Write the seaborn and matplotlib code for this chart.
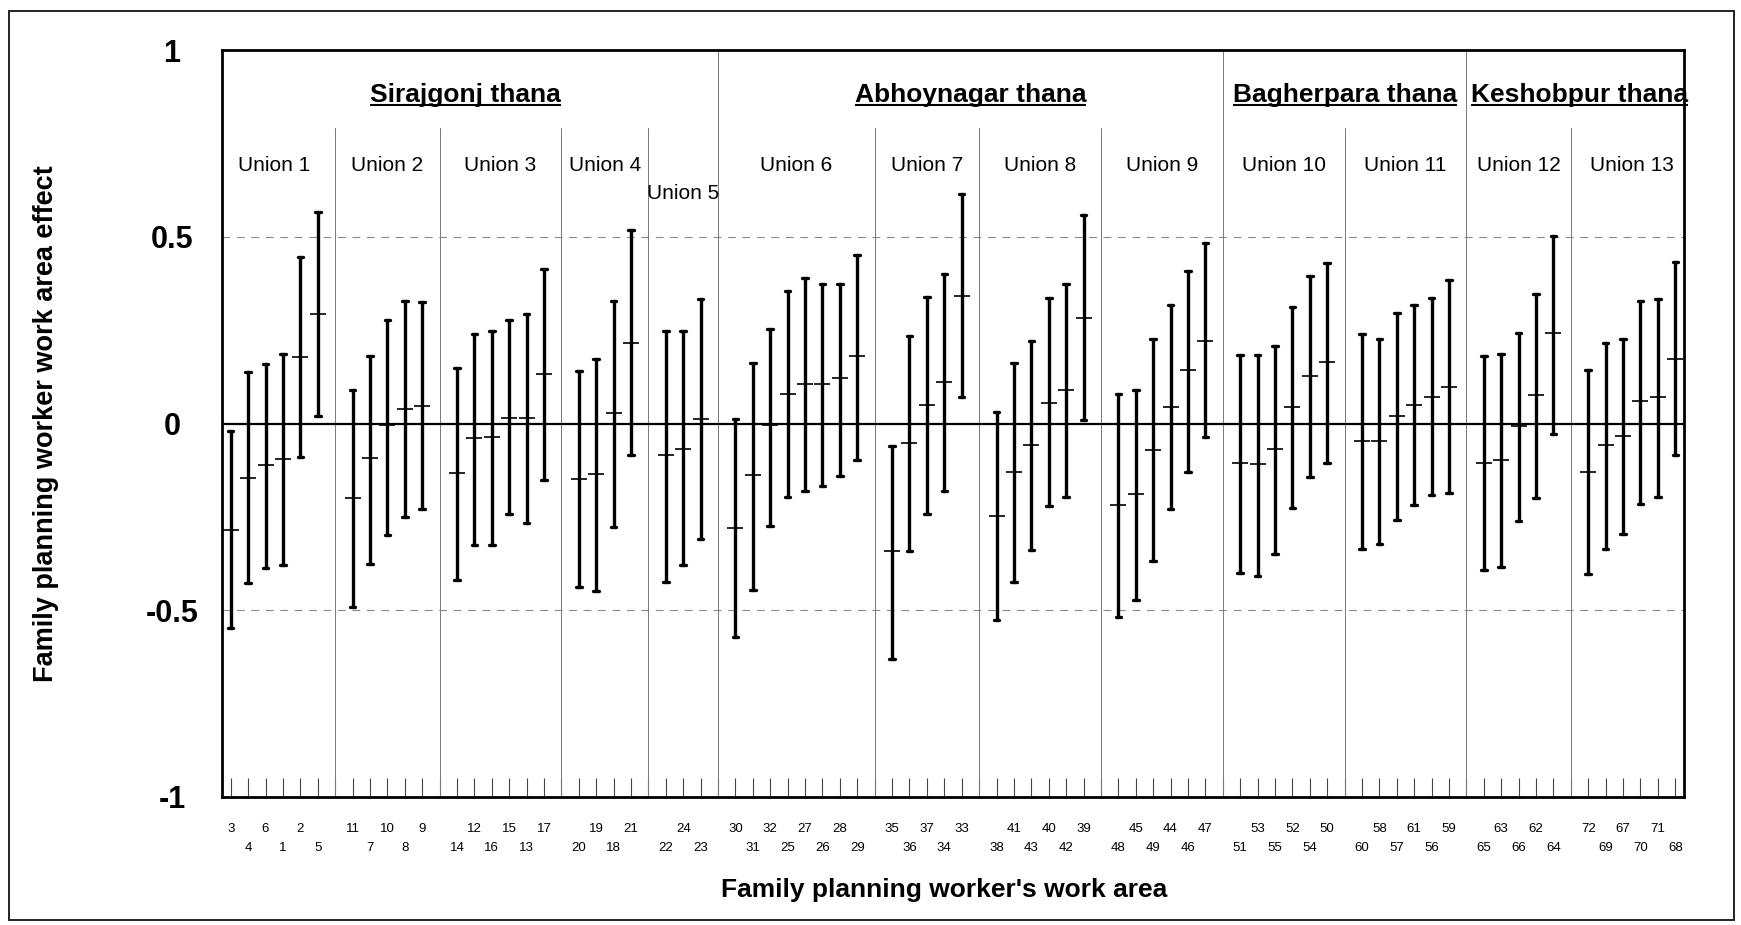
import numpy as np
import pandas as pd
import matplotlib
matplotlib.use("Agg")
import matplotlib.pyplot as plt
import seaborn as sns
from matplotlib.patches import Rectangle

# ---------------- data ----------------
area_ids = [3, 4, 6, 1, 2, 5,
            11, 7, 10, 8, 9,
            14, 12, 16, 15, 13, 17,
            20, 19, 18, 21,
            22, 24, 23,
            30, 31, 32, 25, 27, 26, 28, 29,
            35, 36, 37, 34, 33,
            38, 41, 43, 40, 42, 39,
            48, 45, 49, 44, 46, 47,
            51, 53, 55, 52, 54, 50,
            60, 58, 57, 61, 56, 59,
            65, 63, 66, 62, 64,
            72, 69, 67, 70, 71, 68]

lower = [-0.548, -0.428, -0.386, -0.378, -0.089, 0.021,
         -0.491, -0.375, -0.298, -0.251, -0.229,
         -0.418, -0.325, -0.325, -0.242, -0.266, -0.152,
         -0.438, -0.448, -0.278, -0.085,
         -0.424, -0.379, -0.309,
         -0.572, -0.445, -0.274, -0.198, -0.181, -0.168, -0.141, -0.098,
         -0.630, -0.341, -0.242, -0.180, 0.072,
         -0.525, -0.425, -0.338, -0.221, -0.197, 0.009,
         -0.519, -0.472, -0.368, -0.229, -0.131, -0.037,
         -0.400, -0.407, -0.349, -0.226, -0.143, -0.105,
         -0.336, -0.322, -0.259, -0.219, -0.192, -0.185,
         -0.391, -0.385, -0.262, -0.199, -0.027,
         -0.404, -0.336, -0.297, -0.215, -0.196, -0.084]

mean = [-0.285, -0.145, -0.112, -0.096, 0.178, 0.293,
        -0.200, -0.093, -0.005, 0.040, 0.048,
        -0.133, -0.040, -0.037, 0.016, 0.016, 0.132,
        -0.149, -0.136, 0.027, 0.216,
        -0.085, -0.067, 0.013,
        -0.281, -0.139, -0.004, 0.080, 0.106, 0.106, 0.122, 0.180,
        -0.342, -0.053, 0.049, 0.111, 0.342,
        -0.247, -0.131, -0.057, 0.056, 0.090, 0.283,
        -0.218, -0.190, -0.071, 0.043, 0.142, 0.222,
        -0.107, -0.109, -0.068, 0.043, 0.128, 0.164,
        -0.047, -0.047, 0.019, 0.050, 0.071, 0.099,
        -0.107, -0.099, -0.008, 0.077, 0.242,
        -0.129, -0.058, -0.034, 0.059, 0.071, 0.174]

upper = [-0.019, 0.137, 0.160, 0.186, 0.447, 0.566,
         0.090, 0.181, 0.277, 0.327, 0.325,
         0.148, 0.240, 0.248, 0.277, 0.293, 0.413,
         0.141, 0.174, 0.327, 0.519,
         0.248, 0.248, 0.334,
         0.012, 0.163, 0.254, 0.356, 0.389, 0.374, 0.373, 0.452,
         -0.060, 0.234, 0.338, 0.400, 0.615,
         0.032, 0.162, 0.221, 0.336, 0.373, 0.559,
         0.080, 0.091, 0.227, 0.316, 0.408, 0.484,
         0.184, 0.184, 0.208, 0.311, 0.396, 0.430,
         0.240, 0.227, 0.295, 0.318, 0.336, 0.385,
         0.180, 0.186, 0.242, 0.346, 0.503,
         0.144, 0.215, 0.227, 0.329, 0.334, 0.432]

union_names = ["Union 1", "Union 2", "Union 3", "Union 4", "Union 5", "Union 6",
               "Union 7", "Union 8", "Union 9", "Union 10", "Union 11",
               "Union 12", "Union 13"]
union_sizes = [6, 5, 6, 4, 3, 8, 5, 6, 6, 6, 6, 5, 6]
union_first_label_low = [False, False, True, True, True, False, False,
                         True, True, True, True, True, False]

thana_names = ["Sirajgonj thana", "Abhoynagar thana", "Bagherpara thana", "Keshobpur thana"]
thana_union_counts = [5, 4, 2, 2]

y_ticks = [-1, -0.5, 0, 0.5, 1]
y_tick_labels = ["-1", "-0.5", "0", "0.5", "1"]
x_title = "Family planning worker's work area"
y_title = "Family planning worker work area effect"

# ---------------- layout of categories (one empty slot between unions) ----------------
slots, union_of, union_first, union_last, gap_slots = [], [], [], [], []
pos = 0
for u, n in enumerate(union_sizes):
    if u > 0:
        gap_slots.append(pos)
        pos += 1
    union_first.append(pos)
    for _ in range(n):
        slots.append(pos)
        union_of.append(u)
        pos += 1
    union_last.append(pos - 1)
n_slots = pos

df = pd.DataFrame({
    "slot": np.repeat(slots, 3),
    "effect": np.column_stack([lower, mean, upper]).ravel(),
})

# ---------------- style ----------------
sns.set_theme(style="white")
plt.rcParams["font.family"] = ["Liberation Sans", "DejaVu Sans"]
plt.rcParams["text.color"] = "black"
plt.rcParams["axes.labelcolor"] = "black"
plt.rcParams["xtick.color"] = "black"
plt.rcParams["ytick.color"] = "black"

W, H = 1741, 925
fig = plt.figure(figsize=(W / 100, H / 100), dpi=100)
L, R, T, B = 222, 1684, 50, 797
ax = fig.add_axes([L / W, 1 - B / H, (R - L) / W, (B - T) / H])

# outer frame
fig.add_artist(Rectangle((9 / W, 5 / H), (1734 - 9) / W, (916 - 7) / H,
                         transform=fig.transFigure, fill=False,
                         edgecolor="#222222", linewidth=1.4))

# reference lines
ax.axhline(0.5, color="#8a8a8a", lw=0.8, dashes=(7, 6), zorder=1)
ax.axhline(-0.5, color="#8a8a8a", lw=0.8, dashes=(7, 6), zorder=1)
ax.axhline(0, color="black", lw=1.6, zorder=2)

# dividers
thana_cum = np.cumsum(thana_union_counts)
thana_gap_idx = [c - 1 for c in thana_cum[:-1]]
for gi, g in enumerate(gap_slots):
    if gi in thana_gap_idx:
        ax.plot([g, g], [-1, 1], color="#7a7a7a", lw=0.7, zorder=1)
    else:
        ax.plot([g, g], [-1, 0.79], color="#7a7a7a", lw=0.7, zorder=1)

# intervals: median of (lower, mean, upper) = mean, full range = interval
sns.pointplot(data=df, x="slot", y="effect", native_scale=True,
              estimator="median", errorbar=("pi", 100),
              color="black", linestyle="none", marker="_",
              markersize=11, markeredgewidth=1.2,
              capsize=0.32, err_kws={"linewidth": 2.4}, ax=ax)

# union labels
for u, name in enumerate(union_names):
    cx = (union_first[u] + union_last[u]) / 2
    cy = 0.615 if name == "Union 5" else 0.69
    ax.text(cx, cy, name, ha="center", va="center", fontsize=15, color="black")

# thana labels (underlined)
thana_texts = []
start = 0
for name, cnt in zip(thana_names, thana_union_counts):
    u0, u1 = start, start + cnt - 1
    cx = (union_first[u0] + union_last[u1]) / 2
    t = ax.text(cx, 0.861, name, ha="center", va="baseline", fontsize=19,
                fontweight="bold", color="black")
    thana_texts.append(t)
    start += cnt

# axes
ax.set_xlim(-0.5, n_slots - 0.5)
ax.set_ylim(-1, 1)
tick_labels = [""] * n_slots
for s, a, u in zip(slots, area_ids, union_of):
    k = s - union_first[u]
    low = (k % 2 == 1) != union_first_label_low[u]
    tick_labels[s] = ("\n" if low else "") + str(a)
ax.set_xticks(range(n_slots))
ax.set_xticklabels(tick_labels, fontsize=9.5)
for lbl in ax.get_xticklabels():
    lbl.set_linespacing(1.75)
ax.tick_params(axis="x", direction="in", length=14, width=0.8, color="#444444",
               labelcolor="black", pad=19, bottom=True)

ax.set_yticks(y_ticks)
ax.set_yticklabels(y_tick_labels, fontsize=22, fontweight="bold")
ax.tick_params(axis="y", length=0, pad=36, labelcolor="black")
for lbl in ax.get_yticklabels():
    lbl.set_horizontalalignment("center")

for side, sp in ax.spines.items():
    sp.set_visible(True)
    sp.set_color("black")
    sp.set_linewidth(2.0)

ax.set_xlabel(x_title, fontsize=19, fontweight="bold", va="center", color="black")
ax.xaxis.set_label_coords((944 - L) / (R - L), -(890 - B) / (B - T))
ax.set_ylabel(y_title, fontsize=19.5, fontweight="bold", va="center", color="black")
ax.yaxis.set_label_coords(-(L - 46) / (R - L), 0.5)
ax.grid(False)

# underline thana labels
fig.canvas.draw()
rend = fig.canvas.get_renderer()
inv = ax.transData.inverted()
for t in thana_texts:
    bb = t.get_window_extent(rend)
    base_disp = ax.transData.transform((0, 0.861))[1]
    yline = inv.transform((0, base_disp - 3))[1]
    x0 = inv.transform((bb.x0, 0))[0]
    x1 = inv.transform((bb.x1, 0))[0]
    ax.plot([x0, x1], [yline, yline], color="black", lw=1.5, clip_on=False,
            solid_capstyle="butt")

fig.savefig("out.png", dpi=100)
